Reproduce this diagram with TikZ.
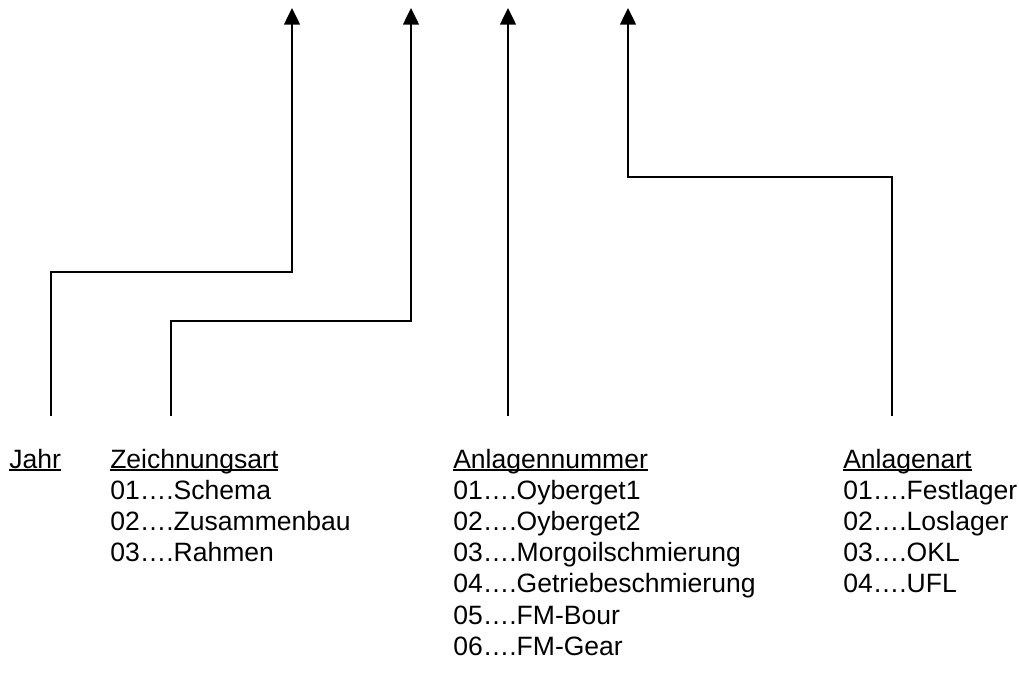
\documentclass[tikz,border=0pt]{standalone}
\usepackage{fontspec}
\setmainfont{Liberation Sans}
\usetikzlibrary{arrows.meta}
\newcommand\ulhead[1]{\setbox0\hbox{#1}\rlap{\rule[-2.0pt]{\wd0}{1.4pt}}\box0}
\tikzset{
  conn/.style={line width=1pt, -{Triangle[width=12pt,length=12.5pt]}},
  txt/.style={anchor=base west, inner sep=0pt, font=\fontsize{19.9}{23.4}\selectfont}
}
\begin{document}
\begin{tikzpicture}[x=0.75pt,y=-0.75pt]
\useasboundingbox (0,0) rectangle (1019,673);
% headings
\node[txt] (jahr) at (9,468) {\ulhead{Jahr}};
\node[txt] (zart) at (110,468) {\ulhead{Zeichnungsart}};
\node[txt] (anum) at (453,468) {\ulhead{Anlagennummer}};
\node[txt] (aart) at (843,468) {\ulhead{Anlagenart}};
% lists
\foreach \t [count=\i] in {01….Schema,02….Zusammenbau,03….Rahmen}
  \node[txt] (z\i) at (110,{468+31.2*\i}) {\t};
\foreach \t [count=\i] in {01….Oyberget1,02….Oyberget2,03….Morgoilschmierung,04….Getriebeschmierung,05….FM-Bour,06….FM-Gear}
  \node[txt] (n\i) at (453,{468+31.2*\i}) {\t};
\foreach \t [count=\i] in {01….Festlager,02….Loslager,03….OKL,04….UFL}
  \node[txt] (a\i) at (843,{468+31.2*\i}) {\t};
% connector ends
\coordinate (jb) at (51,416);
\coordinate (zb) at (171,416);
\coordinate (nb) at (508,416);
\coordinate (ab) at (892,416);
\coordinate (jk) at (292,272);
\coordinate (zk) at (411,321);
\coordinate (ak) at (628,177);
\coordinate (jt) at (292,8);
\coordinate (zt) at (411,8);
\coordinate (nt) at (508,8);
\coordinate (at) at (628,8);
% connectors
\draw[conn] (jb) |- (jk) -- (jt);
\draw[conn] (zb) |- (zk) -- (zt);
\draw[conn] (nb) -- (nt);
\draw[conn] (ab) |- (ak) -- (at);
\end{tikzpicture}
\end{document}
